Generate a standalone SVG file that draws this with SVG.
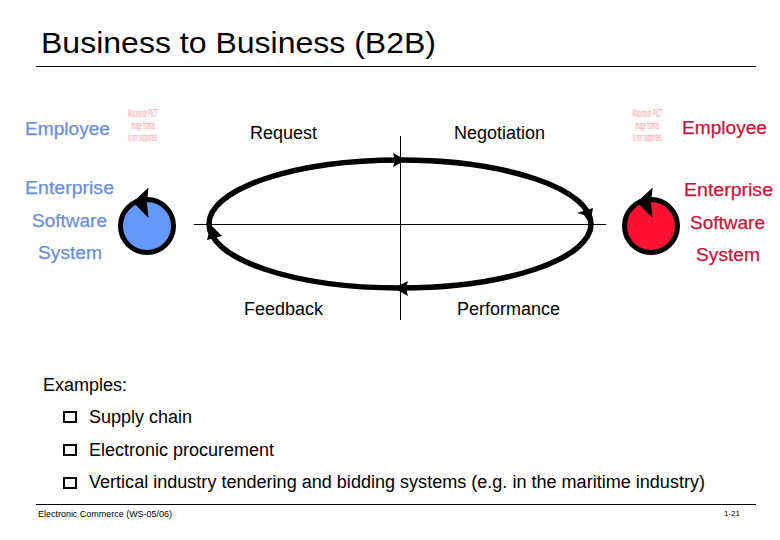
<svg xmlns="http://www.w3.org/2000/svg" width="780" height="540" viewBox="0 0 780 540">
<style>
text{font-family:"Liberation Sans",Arial,sans-serif;font-size:18px;fill:#000}
.b{fill:#6c8ed6;stroke:#6c8ed6;stroke-width:.25px}
.r{fill:#c8143c;stroke:#c8143c;stroke-width:.25px}
.pict{font-size:10px;fill:#f29aa6}
.line{stroke:#000;stroke-width:1;fill:none}
.loop{stroke:#000;stroke-width:5.500;fill:none}
.cs{stroke:#000;stroke-width:5}
.box{fill:none;stroke:#000;stroke-width:2}
</style>
<rect width="780" height="540" fill="#fff"/>
<text x="41" y="53" style="font-size:30px" textLength="395" lengthAdjust="spacingAndGlyphs">Business to Business (B2B)</text>
<path class="line" d="M36 66.500H756"/>
<g id="left-employee"><text class="b" x="25" y="135" textLength="85" lengthAdjust="spacingAndGlyphs">Employee</text></g>
<g id="left-pict"><text class="pict" transform="translate(128 117) scale(.42 1)">Macintosh PICT</text><text class="pict" transform="translate(131 129) scale(.41 1)">image format</text><text class="pict" transform="translate(128 141) scale(.41 1)">is not supported</text></g>
<g id="right-pict"><text class="pict" transform="translate(632.500 117) scale(.42 1)">Macintosh PICT</text><text class="pict" transform="translate(635 129) scale(.41 1)">image format</text><text class="pict" transform="translate(632.500 141) scale(.41 1)">is not supported</text></g>
<g id="right-employee"><text class="r" x="682" y="134" textLength="85" lengthAdjust="spacingAndGlyphs">Employee</text></g>
<g id="left-system"><text class="b" x="25" y="194" textLength="89" lengthAdjust="spacingAndGlyphs">Enterprise</text><text class="b" x="32" y="227" textLength="75" lengthAdjust="spacingAndGlyphs">Software</text><text class="b" x="38" y="259" textLength="64" lengthAdjust="spacingAndGlyphs">System</text></g>
<g id="right-system"><text class="r" x="684" y="196" textLength="89" lengthAdjust="spacingAndGlyphs">Enterprise</text><text class="r" x="690" y="229" textLength="75" lengthAdjust="spacingAndGlyphs">Software</text><text class="r" x="696" y="261" textLength="64" lengthAdjust="spacingAndGlyphs">System</text></g>
<g id="left-circle"><circle class="cs" cx="147" cy="226" r="26.500" fill="#6699ff"/><path d="M148.500 187.500L133 202L148.500 218L147 203Z"/></g>
<g id="right-circle"><circle class="cs" cx="651" cy="226" r="26.500" fill="#ff1133"/><path d="M652.700 187.500L637 202L652.700 218L651 203Z"/></g>
<g id="connectors">
<path class="line" d="M194 224.500H606M400.500 136V320"/>
<ellipse class="loop" cx="400" cy="224" rx="191" ry="64"/>
<path d="M393 153L406 160L393 167L395 160Z"/>
<path d="M408 281L394 288L408 296L406 288Z"/>
<path d="M210 224L222 236L207 240L209 232Z"/>
<path d="M590 224L593 208L577 213L584 215Z"/>
</g>
<g id="labels"><text x="250" y="139">Request</text><text x="454" y="139">Negotiation</text><text x="244" y="315">Feedback</text><text x="457" y="315">Performance</text></g>
<g id="examples">
<text x="43" y="391">Examples:</text>
<rect class="box" x="64" y="412" width="12" height="10"/><text x="89" y="423">Supply chain</text>
<rect class="box" x="64" y="445" width="12" height="10"/><text x="89" y="456">Electronic procurement</text>
<rect class="box" x="64" y="478" width="12" height="10"/><text x="89" y="488" textLength="616" lengthAdjust="spacingAndGlyphs">Vertical industry tendering and bidding systems (e.g. in the maritime industry)</text>
</g>
<path class="line" d="M36 504.500H756"/>
<g id="footer"><text x="38" y="517" style="font-size:9.500px" textLength="134" lengthAdjust="spacingAndGlyphs">Electronic Commerce (WS-05/06)</text><text x="724" y="516" style="font-size:8px">1-21</text></g>
</svg>
